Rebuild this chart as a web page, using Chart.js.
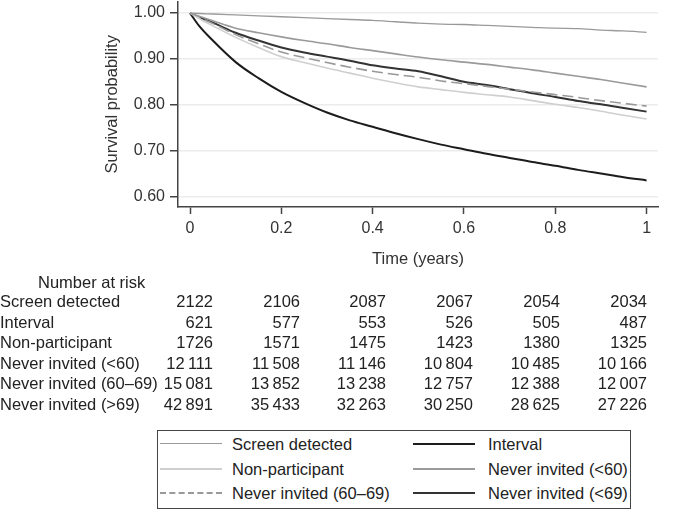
<!DOCTYPE html>
<html>
<head>
<meta charset="utf-8">
<script src="https://cdn.jsdelivr.net/npm/chart.js@4.4.1/dist/chart.umd.min.js"></script>
<style>
body { margin: 0; background: #fff; font-family: "Liberation Sans", Arial, sans-serif; color: #222; }
#wrap { position: relative; width: 676px; height: 511px; overflow: hidden; }
#chartjs { position: absolute; left: 0; top: -13px; }
.cell { position: absolute; font-size: 16.5px; line-height: 20px; white-space: nowrap; }
.num { text-align: right; width: 70px; }
#legend { position: absolute; left: 157px; top: 430px; width: 474px; height: 79px; border: 1px solid #444; box-sizing: border-box; }
.sample { position: absolute; width: 62px; height: 0; }
.ltext { position: absolute; font-size: 16.5px; line-height: 20px; white-space: nowrap; }
</style>
</head>
<body>
<div id="wrap">
  <canvas id="chartjs" width="676" height="288"></canvas>
  <div id="legend"></div>
</div>
<script>
const FONT = '"Liberation Sans", Arial, sans-serif';

// time points (years)
const times = [0, 0.02, 0.05, 0.1, 0.15, 0.2, 0.25, 0.3, 0.35, 0.4, 0.45, 0.5, 0.55, 0.6, 0.65, 0.7, 0.75, 0.8, 0.85, 0.9, 0.95, 1];

const screenDetected = [1, 0.999, 0.998, 0.996, 0.994, 0.992, 0.990, 0.988, 0.986, 0.984, 0.981, 0.978, 0.976, 0.975, 0.973, 0.971, 0.969, 0.967, 0.966, 0.963, 0.961, 0.958];
const interval = [1, 0.972, 0.94, 0.893, 0.858, 0.828, 0.804, 0.783, 0.766, 0.752, 0.738, 0.725, 0.713, 0.703, 0.693, 0.684, 0.675, 0.667, 0.658, 0.650, 0.642, 0.635];
const nonParticipant = [1, 0.988, 0.972, 0.947, 0.925, 0.905, 0.892, 0.880, 0.869, 0.858, 0.848, 0.839, 0.833, 0.827, 0.822, 0.817, 0.809, 0.801, 0.794, 0.786, 0.777, 0.769];
const neverUnder60 = [1, 0.993, 0.983, 0.967, 0.957, 0.948, 0.940, 0.933, 0.925, 0.918, 0.911, 0.904, 0.898, 0.893, 0.888, 0.882, 0.876, 0.869, 0.862, 0.855, 0.847, 0.839];
const never6069 = [1, 0.99, 0.977, 0.953, 0.933, 0.915, 0.903, 0.892, 0.882, 0.873, 0.866, 0.860, 0.852, 0.846, 0.840, 0.834, 0.828, 0.822, 0.816, 0.809, 0.803, 0.797];
const neverOver69 = [1, 0.991, 0.979, 0.957, 0.940, 0.925, 0.914, 0.905, 0.896, 0.886, 0.879, 0.873, 0.862, 0.850, 0.843, 0.834, 0.825, 0.817, 0.808, 0.801, 0.793, 0.785];

const xTicks = [0, 0.2, 0.4, 0.6, 0.8, 1];
const yTicks = [0.6, 0.7, 0.8, 0.9, 1.0];

// number at risk table
const riskLabels = ['Screen detected', 'Interval', 'Non-participant', 'Never invited (<60)', 'Never invited (60\u201369)', 'Never invited (>69)'];
const riskScreen = [2122, 2106, 2087, 2067, 2054, 2034];
const riskInterval = [621, 577, 553, 526, 505, 487];
const riskNonPart = [1726, 1571, 1475, 1423, 1380, 1325];
const riskUnder60 = [12111, 11508, 11146, 10804, 10485, 10166];
const risk6069 = [15081, 13852, 13238, 12757, 12388, 12007];
const riskOver69 = [42891, 35433, 32263, 30250, 28625, 27226];

const legendLabels = ['Screen detected', 'Interval', 'Non-participant', 'Never invited (<60)', 'Never invited (60\u201369)', 'Never invited (<69)'];

const pts = vals => times.map((t, i) => ({ x: t, y: vals[i] }));

const series = [
    { data: screenDetected, color: '#9a9a9a', width: 1.3, dash: [] },
    { data: neverUnder60, color: '#9a9a9a', width: 1.6, dash: [] },
    { data: nonParticipant, color: '#cfcfcf', width: 1.6, dash: [] },
    { data: never6069, color: '#999999', width: 1.6, dash: [11, 5] },
    { data: neverOver69, color: '#333333', width: 2, dash: [] },
    { data: interval, color: '#1c1c1c', width: 2, dash: [] },
];

const ctx = document.getElementById('chartjs');

const chart = new Chart(ctx, {
    type: 'line',
    data: {
        datasets: series.map(s => ({
            data: pts(s.data),
            borderColor: s.color,
            borderWidth: s.width,
            borderDash: s.dash,
            pointRadius: 0,
            fill: false,
            cubicInterpolationMode: 'monotone'
        }))
    },
    options: {
        responsive: false,
        animation: false,
        layout: { padding: { left: 0, right: 18, top: 0, bottom: 0 } },
        plugins: { legend: { display: false }, tooltip: { enabled: false } },
        scales: {
            x: {
                type: 'linear',
                min: -0.0263,
                max: 1.025,
                afterBuildTicks: s => { s.ticks = xTicks.map(v => ({ value: v })); },
                afterFit: s => { s.height = 68; },
                grid: { drawOnChartArea: false, tickLength: 7, tickColor: '#444', tickWidth: 1.5 },
                border: { color: '#444', width: 1.5 },
                ticks: { color: '#333', font: { size: 16, family: FONT }, padding: 5, maxRotation: 0, callback: v => String(v) },
                title: { display: true, text: 'Time (years)', color: '#333', font: { size: 16.5, family: FONT }, padding: { top: 0, bottom: 6 } }
            },
            y: {
                min: 0.577,
                max: 1.025,
                afterBuildTicks: s => { s.ticks = yTicks.map(v => ({ value: v })); },
                afterFit: s => { s.width = 178; },
                grid: { color: '#ececec', lineWidth: 1.5, tickLength: 8, tickColor: '#444', tickWidth: 1.5 },
                border: { color: '#444', width: 1.5 },
                ticks: { color: '#333', font: { size: 16, family: FONT }, padding: 5, callback: v => v.toFixed(2) },
                title: { display: true, text: 'Survival probability', color: '#333', font: { size: 16.5, family: FONT }, padding: { top: 103, bottom: 0 } }
            }
        }
    }
});

// number at risk table
const wrap = document.getElementById('wrap');
const riskRows = [riskScreen, riskInterval, riskNonPart, riskUnder60, risk6069, riskOver69];
const colRight = [213, 300, 386, 473, 560, 647];
const fmt = n => n >= 10000 ? String(n).slice(0, -3) + '\u2009' + String(n).slice(-3) : String(n);

function addCell(text, left, top, cls) {
    const d = document.createElement('div');
    d.className = 'cell' + (cls ? ' ' + cls : '');
    d.textContent = text;
    d.style.left = left + 'px';
    d.style.top = top + 'px';
    wrap.appendChild(d);
}

addCell('Number at risk', 38, 272);
riskLabels.forEach((lab, r) => {
    const top = 291 + r * 20.5;
    addCell(lab, 0, top);
    riskRows[r].forEach((n, c) => addCell(fmt(n), colRight[c] - 70, top, 'num'));
});

// legend
const legend = document.getElementById('legend');
const legendStyles = [series[0], series[5], series[2], series[1], series[3], series[4]];
legendLabels.forEach((lab, i) => {
    const col = i % 2, row = Math.floor(i / 2);
    const s = legendStyles[i];
    const cy = 13 + row * 24.5;
    const smp = document.createElement('div');
    smp.className = 'sample';
    smp.style.left = (col ? 255 : 2) + 'px';
    smp.style.top = (cy - Math.round(s.width / 2)) + 'px';
    smp.style.borderTop = Math.max(1, Math.round(s.width)) + 'px ' + (s.dash.length ? 'dashed' : 'solid') + ' ' + s.color;
    legend.appendChild(smp);
    const t = document.createElement('div');
    t.className = 'ltext';
    t.textContent = lab;
    t.style.left = (col ? 330 : 74) + 'px';
    t.style.top = (cy - 10) + 'px';
    legend.appendChild(t);
});
</script>
</body>
</html>
